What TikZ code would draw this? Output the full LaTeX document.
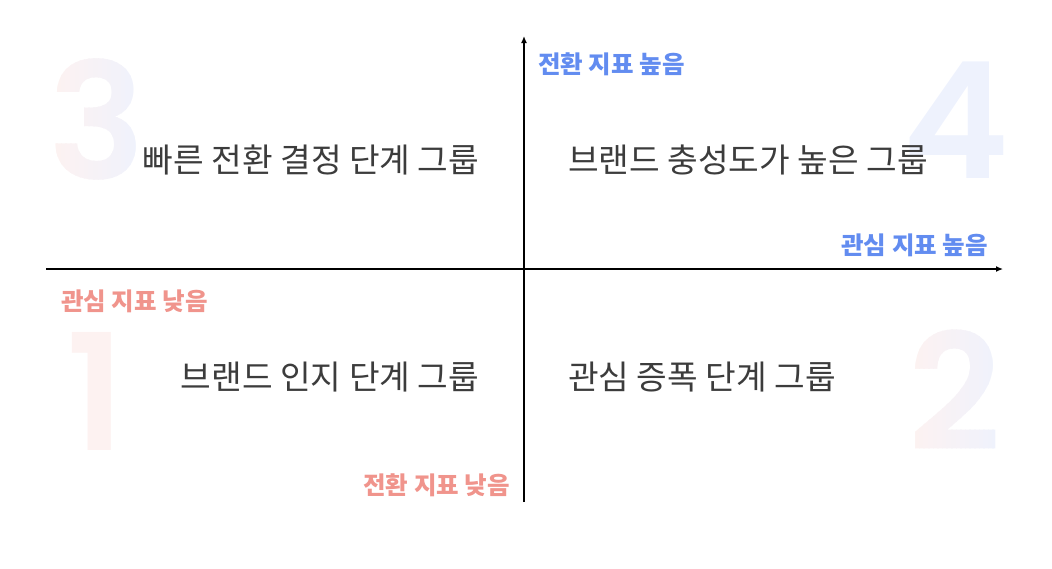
\documentclass[tikz,border=0pt]{standalone}
\usepackage{fontspec}
\setmainfont{Noto Sans CJK KR}
\newfontfamily\digitfont{Poppins}[UprightFont={* SemiBold}]
\usetikzlibrary{arrows.meta}
\definecolor{maintext}{HTML}{3C3C3C}
\definecolor{hiblue}{HTML}{628CF0}
\definecolor{lopink}{HTML}{F0948C}
\definecolor{bigpink}{HTML}{FDF2F1}
\definecolor{bigblue}{HTML}{EEF2FD}
\tikzset{
  grouplabel/.style={text=maintext, font=\fontsize{33.3}{33.3}\selectfont, inner sep=0pt, anchor=center},
  axislabel/.style={font=\bfseries\fontsize{24.5}{24.5}\selectfont, inner sep=0pt},
  bignum/.style={font=\digitfont\fontsize{162}{162}\selectfont, inner sep=0pt, text height=114pt, text depth=0pt},
  axisline/.style={line width=1.3pt, -{Latex[length=7pt,width=6pt]}}
}
\begin{document}
\begin{tikzpicture}[x=1pt,y=-1pt]
\useasboundingbox (0,0) rectangle (1052,568);
% big background digits (3 and 2 shaded from pink to blue in vertical strips)
\foreach \i in {0,...,19}{
  \pgfmathsetmacro{\mix}{100-5*\i}
  \colorlet{stripcol}{bigpink!\mix!bigblue}
  \begin{scope}
    \clip (52+\i*4.6,50) rectangle (52+\i*4.6+5.2,200);
    \node[bignum, text=stripcol] (n3-\i) at (97,122) {3};
  \end{scope}
  \begin{scope}
    \clip (910+\i*4.6,320) rectangle (910+\i*4.6+5.2,470);
    \node[bignum, text=stripcol] (n2-\i) at (955,393) {2};
  \end{scope}
}
\node[bignum, text=bigblue] (n4) at (956,121) {4};
\node[bignum, text=bigpink] (n1) at (96,393) {1};
% axes
\coordinate (xs) at (46,269);
\coordinate (xe) at (1003,269);
\coordinate (ys) at (524,502);
\coordinate (ye) at (524,36);
\draw[axisline] (xs) -- (xe);
\draw[axisline] (ys) -- (ye);
% axis labels
\node[axislabel, text=hiblue, anchor=west] (thi) at (538,64) {전환 지표 높음};
\node[axislabel, text=hiblue, anchor=east] (ihi) at (988,245) {관심 지표 높음};
\node[axislabel, text=lopink, anchor=west] (ilo) at (61,301) {관심 지표 낮음};
\node[axislabel, text=lopink, anchor=east] (tlo) at (510,485) {전환 지표 낮음};
% group labels
\node[grouplabel] (g3) at (311,160) {빠른 전환 결정 단계 그룹};
\node[grouplabel] (g4) at (748,160) {브랜드 충성도가 높은 그룹};
\node[grouplabel] (g1) at (330,377) {브랜드 인지 단계 그룹};
\node[grouplabel] (g2) at (702,377) {관심 증폭 단계 그룹};
\end{tikzpicture}
\end{document}
